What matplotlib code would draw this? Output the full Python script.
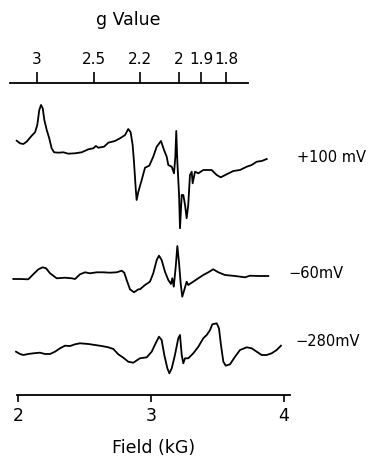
import matplotlib
matplotlib.use("Agg")
import matplotlib.pyplot as plt
import numpy as np

# EPR spectra, field in kG, signal in arbitrary units (relative to each baseline)
field_100 = [1.990, 2.015, 2.040, 2.065, 2.103, 2.128, 2.145, 2.160, 2.173, 2.186,
             2.198, 2.216, 2.235, 2.253, 2.271, 2.303, 2.341, 2.378, 2.429, 2.479,
             2.529, 2.566, 2.586, 2.604, 2.647, 2.679, 2.729, 2.767, 2.805, 2.829,
             2.847, 2.862, 2.872, 2.885, 2.892, 2.905, 2.930, 2.955, 2.987, 3.017,
             3.043, 3.075, 3.098, 3.118, 3.130, 3.156, 3.173, 3.183, 3.190, 3.198,
             3.211, 3.218, 3.231, 3.243, 3.256, 3.268, 3.280, 3.293, 3.306, 3.313,
             3.331, 3.356, 3.393, 3.456, 3.494, 3.524, 3.569, 3.619, 3.669, 3.720,
             3.757, 3.795, 3.832, 3.870]
signal_100 = [9.3, 6.7, 6.0, 8.3, 14.3, 17.7, 25.0, 40.0, 45.0, 41.7,
              30.0, 20.0, 11.7, 1.7, -2.3, -2.7, -2.3, -3.7, -3.3, -2.3,
              0.7, 1.7, 4.0, 2.3, 3.3, 7.3, 9.0, 11.7, 15.0, 21.0,
              17.7, 5.0, -11.7, -38.3, -50.0, -41.7, -30.0, -17.7, -15.7, -6.7,
              3.3, 9.0, 0.0, -6.7, -15.0, -16.7, -23.3, -6.7, 19.0, -11.7,
              -45.0, -78.3, -45.0, -45.0, -55.0, -68.3, -55.0, -25.0, -21.7, -33.3,
              -21.7, -23.3, -20.0, -20.0, -25.0, -27.3, -24.3, -21.0, -20.0, -16.7,
              -15.0, -11.7, -11.0, -9.0]

field_60 = [1.965, 2.015, 2.077, 2.115, 2.153, 2.186, 2.211, 2.241, 2.291, 2.353,
            2.404, 2.429, 2.466, 2.504, 2.541, 2.592, 2.641, 2.692, 2.742, 2.780,
            2.799, 2.817, 2.842, 2.872, 2.905, 2.917, 2.955, 2.992, 3.017, 3.043,
            3.060, 3.080, 3.105, 3.130, 3.150, 3.160, 3.171, 3.186, 3.198, 3.211,
            3.223, 3.235, 3.250, 3.268, 3.280, 3.306, 3.344, 3.393, 3.431, 3.468,
            3.506, 3.556, 3.632, 3.707, 3.744, 3.807, 3.882]
signal_60 = [-3.0, -3.0, -3.3, 1.7, 6.7, 8.7, 7.7, 2.7, -2.3, -1.7,
             -2.3, -3.0, 1.7, 3.7, 2.7, 3.7, 3.7, 3.3, 3.7, 5.3,
             3.3, -4.0, -13.3, -16.3, -13.3, -13.3, -9.0, -5.7, 2.7, 16.0,
             20.3, 16.0, 4.3, -4.0, -8.0, -2.3, -10.7, 9.3, 30.0, 12.7,
             -7.3, -20.7, -14.0, -5.7, -9.0, -6.7, -3.3, 1.0, 3.7, 6.7,
             3.7, 1.0, 0.0, -1.3, 0.3, 0.0, 0.0]

field_280 = [1.985, 2.015, 2.040, 2.077, 2.115, 2.165, 2.203, 2.241, 2.278, 2.316,
             2.353, 2.391, 2.429, 2.466, 2.529, 2.579, 2.629, 2.679, 2.717, 2.754,
             2.792, 2.829, 2.867, 2.905, 2.917, 2.968, 3.005, 3.035, 3.060, 3.080,
             3.100, 3.123, 3.138, 3.156, 3.180, 3.205, 3.218, 3.231, 3.243, 3.256,
             3.280, 3.318, 3.356, 3.393, 3.419, 3.444, 3.461, 3.494, 3.511, 3.526,
             3.544, 3.562, 3.594, 3.632, 3.669, 3.720, 3.757, 3.795, 3.832, 3.870,
             3.907, 3.945, 3.977]
signal_280 = [-1.7, -4.0, -5.0, -4.0, -3.3, -2.7, -4.0, -4.0, -1.7, 1.7,
              4.3, 4.0, 5.7, 6.7, 6.0, 5.0, 4.0, 2.7, 1.0, -4.3,
              -7.7, -11.7, -12.7, -9.3, -8.3, -7.3, -1.7, 6.7, 13.3, 10.0,
              -5.0, -18.3, -23.3, -18.3, -5.0, 11.7, 15.0, -5.0, -13.3, -8.3,
              -8.3, -3.3, 3.3, 11.7, 15.0, 20.0, 25.7, 26.7, 21.7, 5.0,
              -11.7, -15.7, -14.3, -6.7, 0.0, 2.7, 1.7, -1.7, -5.0, -5.0,
              -3.3, 0.0, 4.3]

labels = ["+100 mV", "\u221260mV", "\u2212280mV"]
field_ticks = [2, 3, 4]
g_ticks = [3, 2.5, 2.2, 2, 1.9, 1.8]
g_ticklabels = ["3", "2.5", "2.2", "2", "1.9", "1.8"]

# g = h*nu / (muB * B), X-band ~9 GHz
G_CONST = 6.42

fig = plt.figure(figsize=(3.71, 4.58), dpi=100)
ax = fig.add_axes([0.0, 63 / 458, 1.0, 312 / 458])

traces = [(field_100, signal_100, 245, -7),
          (field_60, signal_60, 119, 3),
          (field_280, signal_280, 45, 8)]
label_x = [4.10, 4.03, 4.083]
for (f, s, off, dy), lab, lx in zip(traces, labels, label_x):
    ax.plot(f, np.array(s) + off, color="black", lw=1.3)
    ax.text(lx, off + dy, lab, fontsize=10.5, ha="left", va="center")

ax.set_xlim(2 - 18 / 133, 2 + 353 / 133)
ax.set_ylim(0, 312)
ax.set_yticks([])
for sp in ["left", "right", "top"]:
    ax.spines[sp].set_visible(False)
ax.spines["bottom"].set_bounds(1.992, 4.045)
ax.spines["bottom"].set_linewidth(1.3)
ax.set_xticks(field_ticks)
ax.set_xticklabels([str(t) for t in field_ticks])
ax.tick_params(axis="x", direction="out", length=5, width=1.2, pad=3.5, labelsize=12.5)
ax.set_xlabel("Field (kG)", fontsize=12.5)
ax.xaxis.set_label_coords(154 / 371, -53 / 312)
ax.xaxis.label.set_verticalalignment("center")

ax2 = ax.secondary_xaxis("top", functions=(lambda b: G_CONST / np.asarray(b, float),
                                           lambda g: G_CONST / np.asarray(g, float)))
ax2.set_xticks(g_ticks)
ax2.set_xticklabels(g_ticklabels)
ax2.tick_params(axis="x", direction="out", length=8, width=1.2, pad=3.5, labelsize=11)
ax2.spines["top"].set_bounds(1.722, 3.309)
ax2.spines["top"].set_linewidth(1.3)
fig.text(128 / 371, 1 - 20 / 458, "g Value", fontsize=12.5, ha="center", va="center")

fig.savefig("out.png", dpi=100)
